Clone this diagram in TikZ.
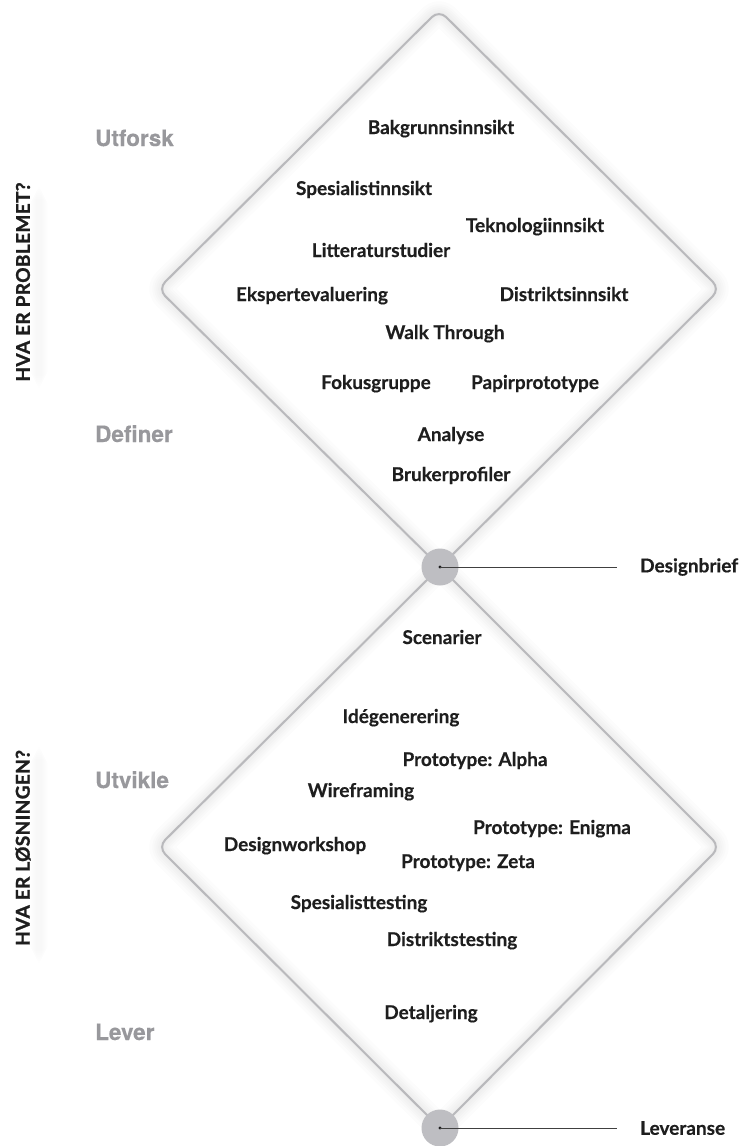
\documentclass[tikz,border=0pt]{standalone}
\usepackage{fontspec}
\setmainfont{Lato}
\newfontfamily\itemfont{Lato}[BoldFeatures={FakeBold=0.4}]
\newfontfamily\headfont{TeX Gyre Heros}[BoldFeatures={FakeBold=0.3}]
\newfontfamily\sidefont{Lato}[LetterSpace=2,BoldFeatures={FakeBold=1.2}]
\begin{document}
\begin{tikzpicture}[x=1pt,y=-1pt]
\definecolor{edge}{HTML}{B9B9BC}
\definecolor{hub}{HTML}{BEBEC2}
\definecolor{phase}{HTML}{98989C}
\definecolor{ink}{HTML}{1E1E1E}
\tikzset{
  item/.style={font=\itemfont\bfseries\fontsize{19}{22}\selectfont, text=ink, inner sep=0pt, anchor=base},
  phaselbl/.style={font=\headfont\bfseries\fontsize{22.5}{26}\selectfont, text=phase, inner sep=0pt, anchor=base west},
  sidelbl/.style={font=\sidefont\bfseries\fontsize{19}{22}\selectfont, text=ink, inner sep=0pt, rotate=90},
  outline/.style={draw=edge, line width=2pt, rounded corners=10pt, line join=round},
  hubdot/.style={circle, fill=hub, minimum size=37pt, inner sep=0pt},
  outcome/.style={font=\itemfont\bfseries\fontsize{19}{22}\selectfont, text=ink, inner sep=0pt, anchor=west},
}
\useasboundingbox (0,0) rectangle (744,1146);
\fill[white] (0,0) rectangle (744,1146);

% corner points of the two diamonds
\coordinate (t1) at (439,10);
\coordinate (l1) at (158,289);
\coordinate (r1) at (720,289);
\coordinate (m) at (440,567);
\coordinate (l2) at (158,847);
\coordinate (r2) at (720,847);
\coordinate (b2) at (440,1128);

% soft shadow around the outlines
\foreach \w in {4,8,12,16,20,26}{
  \draw[black, opacity=0.012, line width=\w pt, line join=round, rounded corners=10pt]
    (t1) -- (r1) -- (m) -- (l1) -- cycle;
  \draw[black, opacity=0.012, line width=\w pt, line join=round, rounded corners=10pt]
    (m) -- (r2) -- (b2) -- (l2) -- cycle;
}
% soft strips beside the side titles
\foreach \w in {2,4,6,8,10,12,14}{
  \fill[black, opacity=0.005, rounded corners=6pt] (37-\w/2,185+\w) rectangle (41+\w/2,390-\w);
  \fill[black, opacity=0.005, rounded corners=6pt] (37-\w/2,745+\w) rectangle (41+\w/2,965-\w);
}

\draw[outline] (t1) -- (r1) -- (m) -- (l1) -- cycle;
\draw[outline] (m) -- (r2) -- (b2) -- (l2) -- cycle;

% hubs and their outcomes
\node[hubdot] (hubA) at (m) {};
\node[hubdot] (hubB) at (b2) {};
\node[outcome] (brief) at (640,567) {Designbrief};
\node[outcome] (lev) at (640,1128) {Leveranse};
\coordinate (briefend) at (617,567);
\coordinate (levend) at (617,1128);
\fill[ink] (hubA.center) circle (1.6pt);
\fill[ink] (hubB.center) circle (1.6pt);
\draw[ink!85, line width=1pt] (hubA.center) -- (briefend);
\draw[ink!85, line width=1pt] (hubB.center) -- (levend);

% phase labels
\node[phaselbl] (p1) at (95,146) {Utforsk};
\node[phaselbl] (p2) at (95,442) {Definer};
\node[phaselbl] (p3) at (95,788) {Utvikle};
\node[phaselbl] (p4) at (95,1040) {Lever};

% side titles
\node[sidelbl] (s1) at (23,282) {HVA ER PROBLEMET?};
\node[sidelbl] (s2) at (23,848) {HVA ER LØSNINGEN?};

% methods, problem space
\node[item] (a1) at (441,134) {Bakgrunnsinnsikt};
\node[item] (a2) at (364,195) {Spesialistinnsikt};
\node[item] (a3) at (535,232) {Teknologiinnsikt};
\node[item] (a4) at (381,257) {Litteraturstudier};
\node[item] (a5) at (312,301) {Ekspertevaluering};
\node[item] (a6) at (564,301) {Distriktsinnsikt};
\node[item] (a7) at (445,339) {Walk Through};
\node[item] (a8) at (376,389) {Fokusgruppe};
\node[item] (a9) at (535,389) {Papirprototype};
\node[item] (a10) at (451,441) {Analyse};
\node[item] (a11) at (451,481) {Brukerprofiler};

% methods, solution space
\node[item] (b1) at (442,644) {Scenarier};
\node[item] (b2n) at (401,723) {Idégenerering};
\node[item] (b3) at (475,766) {Prototype: Alpha};
\node[item] (b4) at (361,797) {Wireframing};
\node[item] (b5) at (552,834) {Prototype: Enigma};
\node[item] (b6) at (295,851) {Designworkshop};
\node[item] (b7) at (468,868) {Prototype: Zeta};
\node[item] (b8) at (359,909) {Spesialisttesting};
\node[item] (b9) at (452,946) {Distriktstesting};
\node[item] (b10) at (431,1019) {Detaljering};
\end{tikzpicture}
\end{document}
